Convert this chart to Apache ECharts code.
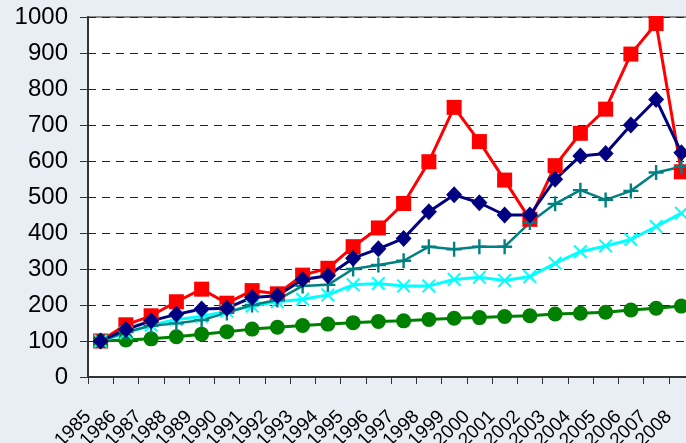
<!DOCTYPE html>
<html>
<head>
<meta charset="utf-8">
<script src="https://cdn.jsdelivr.net/npm/echarts@6/dist/echarts.min.js"></script>
<style>
  html, body { margin: 0; padding: 0; background: #e9eef4; }
  #chart { width: 686px; height: 443px; }
</style>
</head>
<body>
<div id="chart"></div>
<script>
const years = ['1985', '1986', '1987', '1988', '1989', '1990', '1991', '1992', '1993', '1994', '1995', '1996',
  '1997', '1998', '1999', '2000', '2001', '2002', '2003', '2004', '2005', '2006', '2007', '2008']

const redValues = [100, 145, 170, 209, 244, 205, 240, 231, 283, 302, 362, 414, 482, 598, 749, 654, 547, 438, 587, 677, 744, 897, 982, 570]
const navyValues = [100, 132, 156, 174, 189, 191, 221, 226, 271, 281, 330, 356, 385, 459, 506, 484, 450, 450, 549, 614, 621, 700, 771, 623]
const tealValues = [100, 125, 142, 149, 158, 178, 200, 214, 253, 256, 300, 311, 323, 362, 355, 362, 362, 429, 481, 519, 492, 517, 568, 584]
const cyanValues = [100, 122, 144, 160, 168, 183, 197, 209, 216, 228, 256, 260, 253, 253, 271, 277, 268, 279, 316, 348, 364, 382, 418, 455]
const greenValues = [100, 103, 106, 112, 119, 126, 133, 138, 143, 147, 151, 154, 156, 160, 163, 165, 168, 170, 175, 177, 180, 186, 191, 197]

// filled outlines for the plus / cross markers
const plusPath = 'path://M4.2,0H5.8V4.2H10V5.8H5.8V10H4.2V5.8H0V4.2H4.2Z'
const crossPath = 'path://M0,1L1,0L5,4L9,0L10,1L6,5L10,9L9,10L5,6L1,10L0,9L4,5Z'

const mkLine = (name, data, color, symbol, size, width) => ({
  name,
  type: 'line',
  data,
  symbol,
  symbolSize: size,
  showSymbol: true,
  animation: false,
  lineStyle: { color, width },
  itemStyle: { color, borderWidth: 0 }
})

const chart = echarts.init(document.getElementById('chart'))
chart.setOption({
  backgroundColor: '#e9eef4',
  animation: false,
  textStyle: { fontFamily: 'Liberation Sans, Arial, sans-serif' },
  grid: {
    left: 88, top: 17, bottom: 66, right: -8,
    containLabel: false,
    outerBoundsMode: 'none',
    show: true,
    backgroundColor: '#ffffff',
    borderColor: '#8c8c8c',
    borderWidth: 2
  },
  xAxis: {
    type: 'category',
    data: years,
    boundaryGap: true,
    axisLine: { lineStyle: { color: '#333333', width: 2 } },
    axisTick: { show: true, length: 7, lineStyle: { color: '#333333', width: 1 } },
    axisLabel: {
      interval: 0,
      rotate: 45,
      color: '#000000',
      fontSize: 19,
      margin: 24,
      padding: [0, 18, 0, 0]
    }
  },
  yAxis: {
    type: 'value',
    min: 0,
    max: 1000,
    interval: 100,
    axisLine: { show: true, lineStyle: { color: '#333333', width: 2 } },
    axisTick: { show: true, length: 8, lineStyle: { color: '#333333', width: 1 } },
    axisLabel: { color: '#000000', fontSize: 24, margin: 20, formatter: v => String(v) },
    splitLine: { lineStyle: { color: '#222222', width: 1, type: [8, 6] } }
  },
  series: [
    mkLine('red', redValues, '#ff0000', 'rect', 15, 3),
    mkLine('green', greenValues, '#008000', 'circle', 15, 3),
    mkLine('cyan', cyanValues, '#00ffff', crossPath, 14, 3),
    mkLine('teal', tealValues, '#008080', plusPath, 15, 2.5),
    mkLine('navy', navyValues, '#000080', 'diamond', [16, 17], 3)
  ]
})
</script>
</body>
</html>
